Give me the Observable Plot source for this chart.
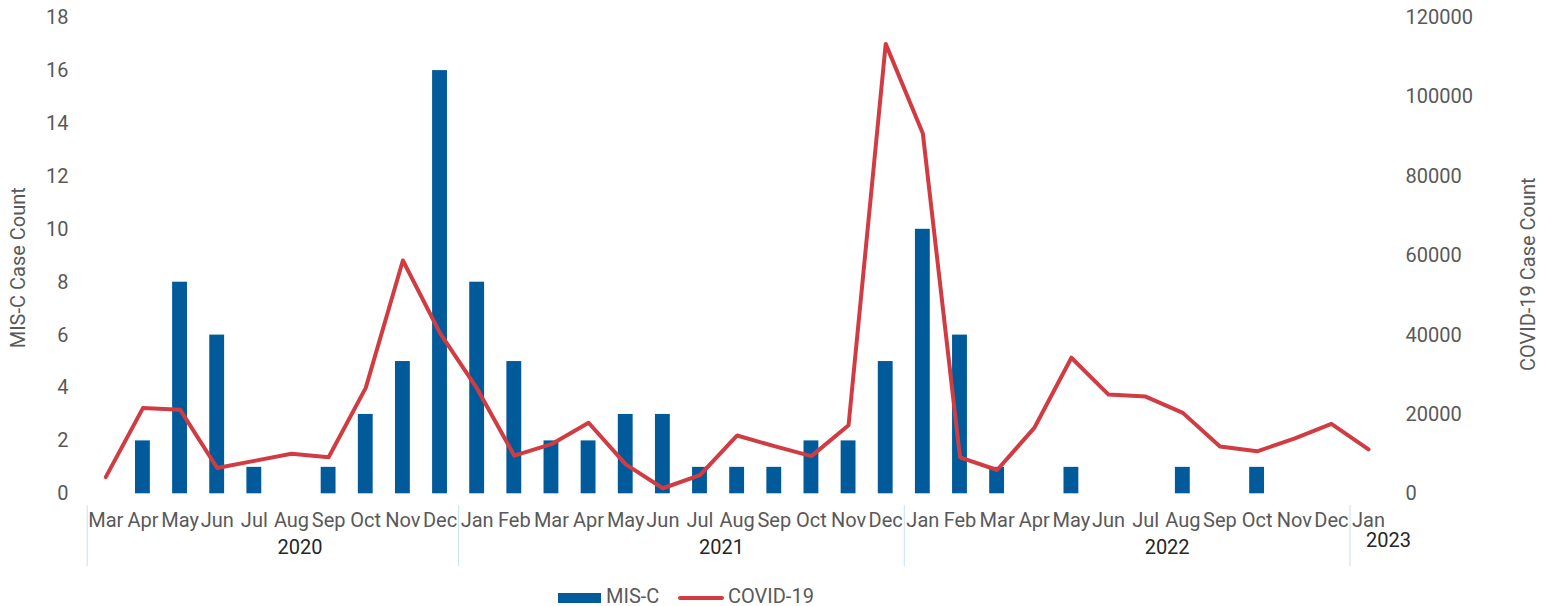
<!DOCTYPE html>
<html>
<head>
<meta charset="utf-8">
<script src="https://cdn.jsdelivr.net/npm/d3@7"></script>
<script src="https://cdn.jsdelivr.net/npm/@observablehq/plot@0.6"></script>
<style>
  html, body { margin: 0; padding: 0; background: #fff; }
  body { width: 1550px; height: 606px; overflow: hidden; font-family: Roboto, sans-serif; }
  #legend { position: relative; width: 1550px; height: 26px; }
  #legend .sw-bar { position: absolute; left: 558px; top: 13px; width: 43px; height: 10px; background: #015a9a; }
  #legend .sw-line { position: absolute; left: 678px; top: 16px; width: 46px; height: 4px; border-radius: 2px; background: #d13c43; }
  #legend .lab { position: absolute; top: 6px; font-size: 20px; line-height: 20px; color: #595959; white-space: nowrap; }
</style>
</head>
<body>
<div id="chart"></div>
<div id="legend">
  <div class="sw-bar"></div><span class="lab" style="left:606px">MIS-C</span>
  <div class="sw-line"></div><span class="lab" style="left:728px">COVID-19</span>
</div>
<script>
// ---- data ----
const months = [
  "Mar","Apr","May","Jun","Jul","Aug","Sep","Oct","Nov","Dec",
  "Jan","Feb","Mar","Apr","May","Jun","Jul","Aug","Sep","Oct","Nov","Dec",
  "Jan","Feb","Mar","Apr","May","Jun","Jul","Aug","Sep","Oct","Nov","Dec",
  "Jan"
];
const misc = [
  0, 2, 8, 6, 1, 0, 1, 3, 5, 16,
  8, 5, 2, 2, 3, 3, 1, 1, 1, 2, 2, 5,
  10, 6, 1, 0, 1, 0, 0, 1, 0, 1, 0, 0,
  0
];
const covid = [
  4200, 21600, 21200, 6500, 8300, 10100, 9200, 26700, 58800, 40500,
  26500, 9600, 12500, 17900, 7400, 1400, 4700, 14700, 12000, 9500, 17300, 113400,
  90800, 9200, 6000, 16600, 34300, 25000, 24500, 20400, 11900, 10700, 13900, 17600,
  11200
];
const years = ["2020", "2021", "2022", "2023"];
const yearMonthCounts = [10, 12, 12, 1];
const leftTicks = [0, 2, 4, 6, 8, 10, 12, 14, 16, 18];
const rightTicks = [0, 20000, 40000, 60000, 80000, 100000, 120000];
const leftMax = 18, rightMax = 120000;

// ---- derived tables ----
const k = leftMax / rightMax;
const data = months.map((m, i) => ({ i, month: m, misc: misc[i], covid: covid[i] }));
let s = 0;
const groups = years.map((y, j) => { const g = { year: y, start: s, end: s + yearMonthCounts[j] }; s = g.end; return g; });

const blue = "#015a9a", red = "#d13c43", gray = "#595959", dark = "#262626", sep = "#c6e0f2";
const yearDx = [27, 40, 40, 20];
const yearDy = [60.5, 60.5, 60.5, 53.5];

const chart = Plot.plot({
  width: 1550, height: 580,
  marginLeft: 86.7, marginRight: 163.4, marginTop: 17.2, marginBottom: 86.7,
  style: { fontFamily: "Roboto, sans-serif", fontSize: "20px", background: "white", color: gray, overflow: "visible" },
  x: { type: "linear", domain: [0, months.length], axis: null },
  y: { domain: [0, leftMax], axis: null },
  marks: [
    Plot.rectY(data, { x1: d => d.i + 0.3, x2: d => d.i + 0.7, y1: 0, y2: "misc", fill: blue }),
    Plot.line(data, { x: d => d.i + 0.5, y: d => d.covid * k, stroke: red, strokeWidth: 4, strokeLinejoin: "round", strokeLinecap: "round" }),
    Plot.axisX(data.map(d => d.i + 0.5), { tickSize: 0, tickPadding: 19, tickFormat: v => months[Math.round(v - 0.5)], fill: gray, fontSize: 20, label: null }),
    Plot.axisY(leftTicks, { anchor: "left", tickSize: 0, tickPadding: 18.7, fill: gray, fontSize: 20, label: null }),
    Plot.axisY(rightTicks.map(v => v * k), { anchor: "right", tickSize: 0, tickPadding: 18.4, tickFormat: v => String(Math.round(v / k)), fill: gray, fontSize: 20, label: null }),
    Plot.ruleX(groups.map(g => g.start), { stroke: sep, strokeWidth: 1, insetTop: 488, insetBottom: -72.7 }),
    ...groups.map((g, j) => Plot.text([g], { x: d => (d.start + d.end) / 2, text: "year", frameAnchor: "bottom", dx: yearDx[j], dy: yearDy[j], fill: dark, fontSize: 20 })),
    Plot.text(["MIS-C Case Count"], { text: d => d, frameAnchor: "left", textAnchor: "middle", rotate: -90, dx: -68.7, dy: 12, fill: gray, fontSize: 20 }),
    Plot.text(["COVID-19 Case Count"], { text: d => d, frameAnchor: "right", textAnchor: "middle", rotate: -90, dx: 141.4, dy: 18.5, fill: gray, fontSize: 20 })
  ]
});
document.getElementById("chart").appendChild(chart);
</script>
</body>
</html>
